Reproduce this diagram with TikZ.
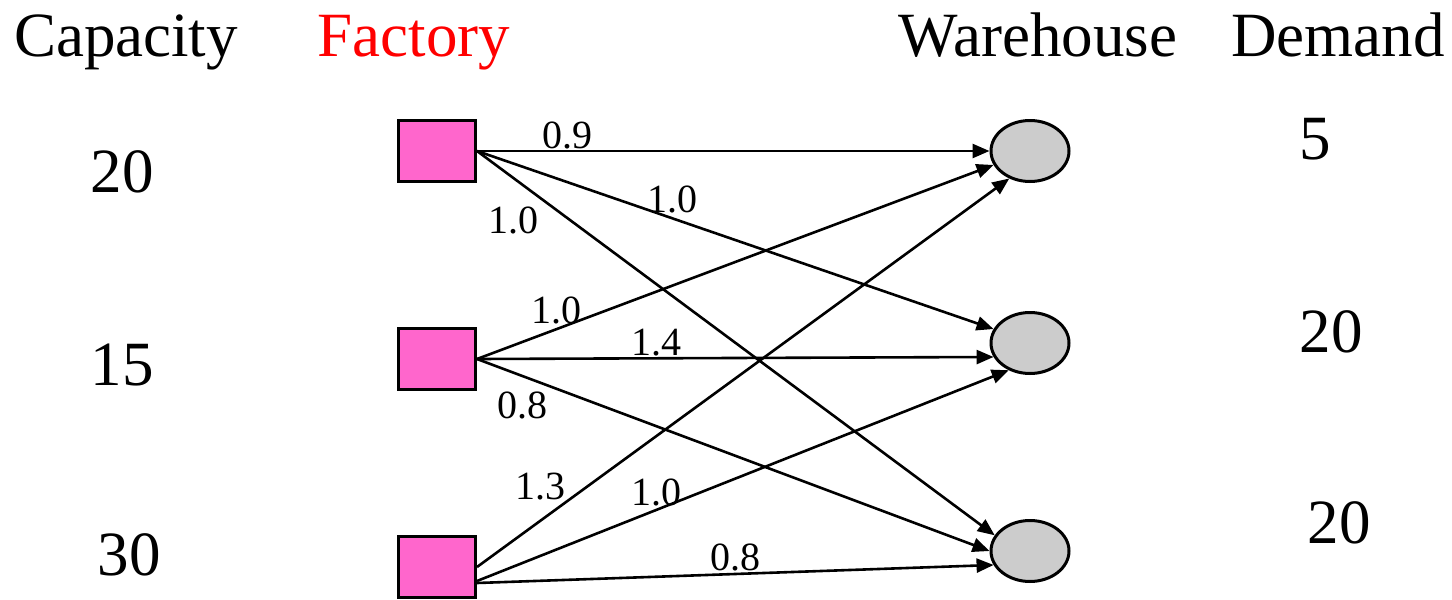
\documentclass[tikz,border=0pt]{standalone}
\usepackage{fontspec}
\setmainfont{Liberation Serif}
\usetikzlibrary{arrows.meta,shapes.geometric,calc}
\definecolor{factpink}{HTML}{FF66CC}
\definecolor{whgray}{HTML}{CCCCCC}
\begin{document}
\begin{tikzpicture}[x=1pt,y=-1pt,
  fact/.style={draw=black,line width=3pt,fill=factpink,rectangle,minimum width=77pt,minimum height=61pt,inner sep=0pt},
  wh/.style={draw=black,line width=3pt,fill=whgray,ellipse,minimum width=78pt,minimum height=61pt,inner sep=0pt},
  arr/.style={line width=2.6pt,-{Triangle[length=17pt,width=14pt]}},
  head/.style={font=\rmfamily\fontsize{63}{70}\selectfont,inner sep=0pt,anchor=base},
  big/.style={font=\rmfamily\fontsize{63}{70}\selectfont,inner sep=0pt,anchor=base},
  lbl/.style={font=\rmfamily\fontsize{40}{44}\selectfont,inner sep=0pt,anchor=base}]
\path[use as bounding box] (0,0) rectangle (1452,600);
% headers
\node[head] (hcap) at (126,56) {Capacity};
\node[head,text=red] (hfac) at (414,56) {Factory};
\node[head] (hwh) at (1038,56) {Warehouse};
\node[head] (hdem) at (1338,56) {Demand};
% capacities and demands
\node[big] (c1) at (122,192) {20};
\node[big] (c2) at (122,385) {15};
\node[big] (c3) at (129,575) {30};
\node[big] (d1) at (1315,159) {5};
\node[big] (d2) at (1331,352) {20};
\node[big] (d3) at (1339,543) {20};
% factories
\node[fact] (f1) at (437,151) {};
\node[fact] (f2) at (437,359) {};
\node[fact] (f3) at (437,567) {};
% warehouses
\node[wh] (w1) at (1030,151) {};
\node[wh] (w2) at (1030,343) {};
\node[wh] (w3) at (1030,551) {};
% start points of factory 3
\coordinate (f3b) at ($(f3.east)+(0,14)$);
\coordinate (f3c) at ($(f3.east)+(0,16)$);
% edges
\draw[arr] (f1.east) -- (w1.west);
\draw[arr] (f1.east) -- (w2.159);
\draw[arr] (f1.east) -- (w3.156);
\draw[arr] (f2.east) -- (w1.201);
\draw[arr] (f2.east) -- (w2.201);
\draw[arr] (f2.east) -- (w3.west);
\draw[arr] (f3.east) -- (w1.233);
\draw[arr] (f3b) -- (w2.232);
\draw[arr] (f3c) -- (w3.201);
% edge labels
\node[lbl] (l11) at (567,148) {0.9};
\node[lbl] (l12) at (672,212) {1.0};
\node[lbl] (l13) at (513,233) {1.0};
\node[lbl] (l21) at (556,323) {1.0};
\node[lbl] (l22) at (656,355) {1.4};
\node[lbl] (l23) at (522,418) {0.8};
\node[lbl] (l31) at (540,499) {1.3};
\node[lbl] (l32) at (656,505) {1.0};
\node[lbl] (l33) at (735,570) {0.8};
\end{tikzpicture}
\end{document}
